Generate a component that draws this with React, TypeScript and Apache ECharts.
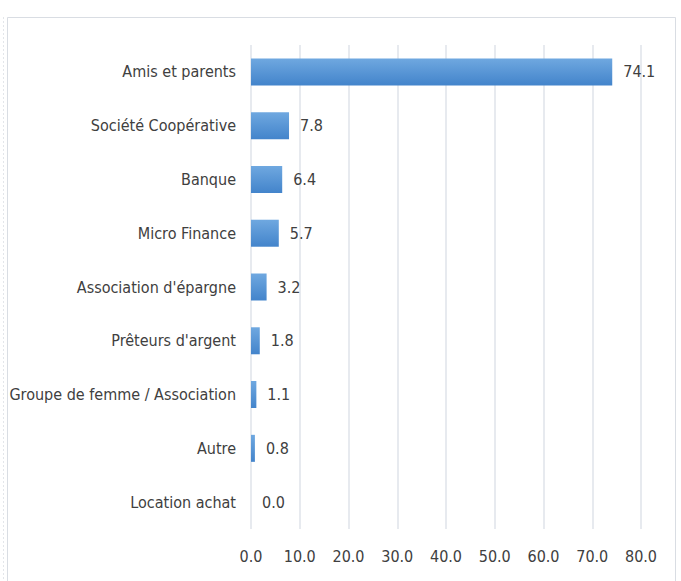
import React, { useEffect, useRef } from "react";
import * as echarts from "echarts";

const categories = [
  "Amis et parents",
  "Société Coopérative",
  "Banque",
  "Micro Finance",
  "Association d'épargne",
  "Prêteurs d'argent",
  "Groupe de femme / Association",
  "Autre",
  "Location achat",
];
const values = [74.1, 7.8, 6.4, 5.7, 3.2, 1.8, 1.1, 0.8, 0.0];
const xTicks = [0, 10, 20, 30, 40, 50, 60, 70, 80];

const FONT = "'Liberation Sans Narrow', 'DejaVu Sans Condensed', 'Noto Sans', sans-serif";

export default function App() {
  const ref = useRef<HTMLDivElement>(null);
  useEffect(() => {
    if (!ref.current) return;
    const chart = echarts.init(ref.current, undefined, { renderer: "svg" });
    chart.setOption({
      animation: false,
      backgroundColor: "#ffffff",
      graphic: [
        {
          type: "rect",
          shape: { x: 7.5, y: 17.5, width: 668, height: 600 },
          style: { fill: "none", stroke: "#d9dde3", lineWidth: 1 },
          z: 0,
        },
        {
          type: "line",
          shape: { x1: 3.5, y1: 17, x2: 3.5, y2: 581 },
          style: { stroke: "#e3e6ea", lineWidth: 1, lineDash: [2, 2] },
          z: 0,
        },
      ],
      grid: { left: 251, right: 40, top: 45, bottom: 52, containLabel: false },
      xAxis: {
        type: "value",
        min: 0,
        max: 80,
        interval: 10,
        axisLine: { show: false },
        axisTick: { show: false },
        splitLine: { show: true, lineStyle: { color: "#dfe3ea", width: 1.5 } },
        axisLabel: {
          margin: 19,
          fontFamily: FONT,
          fontSize: 16,
          color: "#404040",
          formatter: (v: number) => (xTicks.includes(v) ? v.toFixed(1) : ""),
        },
      },
      yAxis: {
        type: "category",
        data: categories,
        inverse: true,
        axisLine: { show: false },
        axisTick: { show: false },
        axisLabel: {
          margin: 15,
          fontFamily: FONT,
          fontSize: 16,
          color: "#404040",
        },
      },
      series: [
        {
          type: "bar",
          data: values,
          barWidth: 27,
          itemStyle: {
            color: new echarts.graphic.LinearGradient(0, 0, 0, 1, [
              { offset: 0, color: "#6fa8e0" },
              { offset: 1, color: "#4384cb" },
            ]),
            borderWidth: 0,
          },
          label: {
            show: true,
            position: "right",
            distance: 11,
            fontFamily: FONT,
            fontSize: 16,
            color: "#404040",
            formatter: (p: any) => Number(p.value).toFixed(1),
          },
        },
      ],
    });
    return () => chart.dispose();
  }, []);
  return <div ref={ref} style={{ width: 681, height: 581, position: "absolute", left: 0, top: 0 }} />;
}
